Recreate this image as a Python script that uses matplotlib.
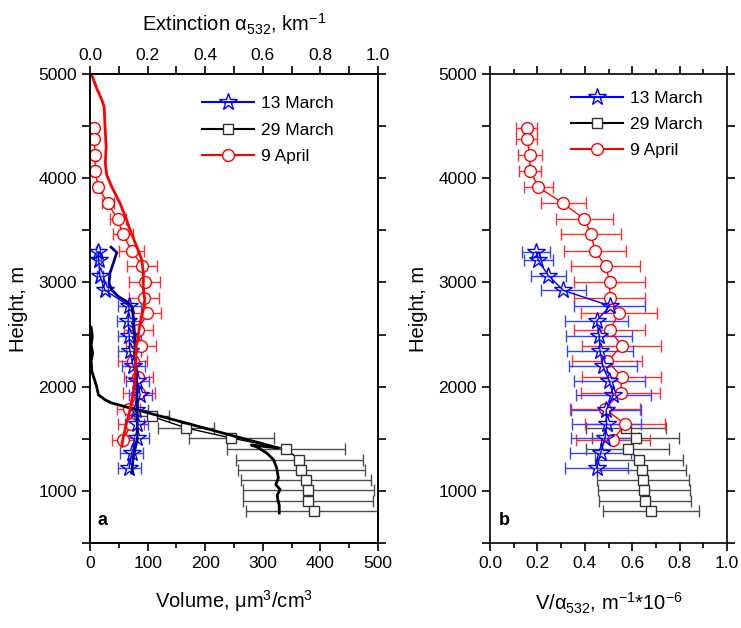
import matplotlib
matplotlib.use("Agg")
import matplotlib.pyplot as plt
from matplotlib.ticker import MultipleLocator
from matplotlib.lines import Line2D

plt.rcParams['font.family'] = ['Liberation Sans', 'DejaVu Sans']
plt.rcParams['mathtext.fontset'] = 'custom'
plt.rcParams['mathtext.rm'] = 'Liberation Sans'
plt.rcParams['mathtext.it'] = 'Liberation Sans:italic'
plt.rcParams['mathtext.default'] = 'regular'

# ---------------- data ----------------
labels = ['13 March', '29 March', '9 April']

# marker heights (m)
h_mar13 = [3295, 3212, 3066, 2924, 2775, 2632, 2485, 2344, 2197, 2050, 1920, 1772, 1640, 1505, 1363, 1223]
h_mar29 = [1715, 1603, 1507, 1402, 1300, 1204, 1108, 1005, 906, 803]
h_apr9 = [4479, 4372, 4222, 4072, 3914, 3758, 3608, 3462, 3306, 3155, 3005, 2852, 2702, 2545, 2392,
          2242, 2097, 1942, 1787, 1640, 1488]

# panel a: volume (um3/cm3) with errors
vol_mar13 = [14, 15, 17, 26, 68, 66, 68, 69, 75, 82, 87, 80, 81, 82, 72, 68]
vol_mar13_err = [4, 4, 5, 6, 20, 20, 20, 20, 20, 20, 20, 20, 20, 20, 20, 20]
vol_mar29 = [107, 167, 245, 340, 363, 367, 375, 379, 379, 388]
vol_mar29_err = [30, 49, 74, 102, 110, 111, 113, 114, 113, 117]
vol_apr9 = [7, 7, 9, 9, 14, 31, 48, 57, 72, 91, 95, 93, 99, 84, 88, 74, 84, 85, 67, 71, 58]
vol_apr9_err = [4, 4, 5, 5, 7.5, 10, 14, 17, 22, 26, 27, 26, 25, 25, 26, 25, 25, 27, 20, 22, 19]

# panel a: extinction profiles (km-1)
ext_mar13_h = [3338, 3287, 3185, 3089, 2993, 2929, 2865, 2817, 2769, 2673, 2450, 2290, 2066, 1810,
               1491, 1331, 1171]
ext_mar13 = [0.073, 0.093, 0.081, 0.069, 0.066, 0.075, 0.098, 0.127, 0.145, 0.150, 0.156, 0.156,
             0.162, 0.164, 0.164, 0.150, 0.145]
ext_mar29_h = [2570, 2480, 2400, 2320, 2250, 2150, 2080, 2010, 1950, 1922, 1874, 1843, 1411, 1440,
               1421, 1364, 1300, 1220, 1124, 1060, 1012, 960, 916, 860, 788]
ext_mar29 = [0.004, 0.008, 0.004, 0.009, 0.004, 0.006, 0.014, 0.022, 0.027, 0.029, 0.052, 0.075,
             0.654, 0.560, 0.579, 0.613, 0.637, 0.648, 0.654, 0.645, 0.660, 0.650, 0.652, 0.657, 0.657]
ext_apr9_h = [5000, 4990, 4863, 4751, 4687, 4495, 4303, 4144, 4032, 3920, 3760, 3600, 3504, 3344,
              3216, 3089, 2929, 2833, 2737, 2610, 2450, 2386, 2130, 2066, 1938, 1778, 1651, 1523, 1427]
ext_apr9 = [0.0, 0.006, 0.023, 0.041, 0.049, 0.052, 0.056, 0.053, 0.058, 0.075, 0.104, 0.127, 0.139,
            0.162, 0.180, 0.185, 0.185, 0.190, 0.185, 0.174, 0.165, 0.160, 0.157, 0.156, 0.150,
            0.139, 0.127, 0.116, 0.110]

# panel b: V/alpha (m-1 * 1e-6)
va_mar13 = [0.194, 0.204, 0.246, 0.309, 0.506, 0.450, 0.461, 0.464, 0.476, 0.504, 0.520, 0.490,
            0.492, 0.485, 0.467, 0.450]
va_mar13_err = [0.059, 0.060, 0.074, 0.094, 0.150, 0.134, 0.139, 0.140, 0.144, 0.151, 0.159, 0.148,
                0.147, 0.142, 0.129, 0.134]
h_mar29_b = [1603, 1507, 1402, 1300, 1204, 1108, 1005, 906, 803]
va_mar29 = [0.574, 0.615, 0.581, 0.629, 0.640, 0.646, 0.650, 0.653, 0.678]
va_mar29_err = [0.169, 0.183, 0.174, 0.186, 0.189, 0.194, 0.195, 0.195, 0.203]
va_apr9 = [0.155, 0.155, 0.169, 0.169, 0.204, 0.309, 0.398, 0.426, 0.443, 0.488, 0.505, 0.505,
           0.544, 0.506, 0.556, 0.495, 0.556, 0.551, 0.485, 0.570, 0.518]
va_apr9_err = [0.045, 0.045, 0.050, 0.048, 0.060, 0.094, 0.120, 0.127, 0.132, 0.146, 0.150, 0.150,
               0.162, 0.150, 0.167, 0.147, 0.167, 0.165, 0.148, 0.170, 0.155]

# ---------------- styles ----------------
c_blue, c_black, c_red = '#0000FF', '#000000', '#FF0000'
e_blue, e_black, e_red = '#3347FF', '#4D4D4D', '#FF3030'
line_blue = '#00008B'

fig = plt.figure(figsize=(7.41, 6.28), dpi=100)
ax = fig.add_axes([0.1215, 0.1354, 0.3887, 0.7468])
axb = fig.add_axes([0.6613, 0.1354, 0.3198, 0.7468])

FS = 12.5
star_kw = dict(marker='*', ms=13, mfc='none', mec=c_blue, mew=1.0)
sq_kw = dict(marker='s', ms=7, mfc='white', mec='#333333', mew=1.0)
circ_kw = dict(marker='o', ms=8.5, mfc='white', mec=c_red, mew=1.0)


def draw_markers(a, xs, hs, errs, color, ecolor, mk):
    a.errorbar(xs, hs, xerr=errs, color=color, lw=1.0, ecolor=ecolor, elinewidth=1.0,
               capsize=4, capthick=1.0, **mk)


# panel a markers (volume, bottom axis)
draw_markers(ax, vol_mar29, h_mar29, vol_mar29_err, c_black, e_black, sq_kw)
draw_markers(ax, vol_apr9, h_apr9, vol_apr9_err, c_red, e_red, circ_kw)
draw_markers(ax, vol_mar13, h_mar13, vol_mar13_err, c_blue, e_blue, star_kw)

ax.set_xlim(0, 500)
ax.set_ylim(500, 5000)

# panel a extinction lines (top axis)
axt = ax.twiny()
axt.set_xlim(0, 1.0)
axt.plot(ext_mar29, ext_mar29_h, color='black', lw=2.0)
axt.plot(ext_mar13, ext_mar13_h, color=line_blue, lw=2.0)
axt.plot(ext_apr9, ext_apr9_h, color=c_red, lw=2.0)

# panel b
draw_markers(axb, va_mar29, h_mar29_b, va_mar29_err, c_black, e_black, sq_kw)
draw_markers(axb, va_apr9, h_apr9, va_apr9_err, c_red, e_red, circ_kw)
draw_markers(axb, va_mar13, h_mar13, va_mar13_err, c_blue, e_blue, star_kw)
axb.set_xlim(0, 1.0)
axb.set_ylim(500, 5000)

# ---------------- axes styling ----------------
for a in (ax, axb, axt):
    for s in a.spines.values():
        s.set_linewidth(1.2)

for a in (ax, axb):
    a.yaxis.set_major_locator(MultipleLocator(1000))
    a.yaxis.set_minor_locator(MultipleLocator(500))
    a.tick_params(axis='y', which='both', direction='out', length=6, width=1.2,
                  left=True, right=True, labelleft=True, labelright=False, labelsize=FS)
    a.set_yticks([1000, 2000, 3000, 4000, 5000])
    a.set_ylabel('Height, m', fontsize=14.5)

ax.yaxis.set_label_coords(-0.215, 0.5)
axb.yaxis.set_label_coords(-0.262, 0.5)

ax.xaxis.set_major_locator(MultipleLocator(100))
ax.xaxis.set_minor_locator(MultipleLocator(50))
ax.tick_params(axis='x', which='major', direction='out', length=6, width=1.2, top=False,
               labelsize=FS)
ax.tick_params(axis='x', which='minor', direction='out', length=3.5, width=1.2, top=False)
ax.set_xticks([0, 100, 200, 300, 400, 500])
ax.set_xticklabels(['0', '100', '200', '300', '400', '500'])
ax.set_xlabel('Volume, μm$^3$/cm$^3$', fontsize=14.5, labelpad=12)

axt.xaxis.set_major_locator(MultipleLocator(0.2))
axt.xaxis.set_minor_locator(MultipleLocator(0.1))
axt.tick_params(axis='x', which='major', direction='out', length=6, width=1.2, labelsize=FS,
                pad=2)
axt.tick_params(axis='x', which='minor', direction='out', length=6, width=1.2)
axt.xaxis.set_major_formatter(matplotlib.ticker.FormatStrFormatter('%.1f'))
axt.set_xlabel('Extinction α$_{532}$, km$^{-1}$', fontsize=14.5, labelpad=12)

axb.xaxis.set_major_locator(MultipleLocator(0.2))
axb.xaxis.set_minor_locator(MultipleLocator(0.1))
axb.tick_params(axis='x', which='major', direction='out', length=6, width=1.2, top=True,
                labeltop=False, labelsize=FS)
axb.tick_params(axis='x', which='minor', direction='out', length=3.5, width=1.2, top=True)
axb.xaxis.set_major_formatter(matplotlib.ticker.FormatStrFormatter('%.1f'))
axb.set_xlabel('V/α$_{532}$, m$^{-1}$*10$^{-6}$', fontsize=14.5, labelpad=14)

# panel letters
ax.text(0.025, 0.03, 'a', transform=ax.transAxes, fontsize=13, fontweight='bold',
        ha='left', va='bottom')
axb.text(0.035, 0.03, 'b', transform=axb.transAxes, fontsize=13, fontweight='bold',
         ha='left', va='bottom')

# legends
handles = [
    Line2D([], [], color=c_blue, lw=1.5, **star_kw),
    Line2D([], [], color=c_black, lw=1.5, **sq_kw),
    Line2D([], [], color=c_red, lw=1.5, **circ_kw),
]
leg_kw = dict(frameon=False, fontsize=12.5, handlelength=3.0, handletextpad=0.4,
              labelspacing=0.65, borderpad=0, borderaxespad=0, loc='upper left',
              bbox_transform=fig.transFigure)
axt.legend(handles, labels, bbox_to_anchor=(0.272, 0.847), **leg_kw)
axb.legend(handles, labels, bbox_to_anchor=(0.771, 0.856), **leg_kw)

fig.savefig('out.png', dpi=100)
